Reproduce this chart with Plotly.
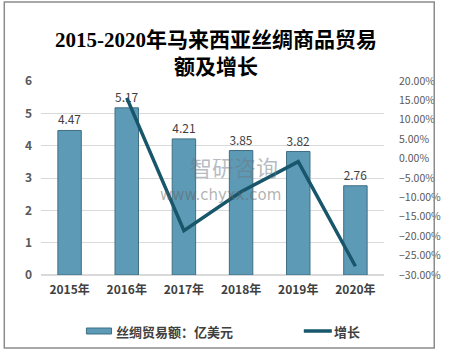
import plotly.graph_objects as go

years = ["2015年", "2016年", "2017年", "2018年", "2019年", "2020年"]
trade = [4.47, 5.17, 4.21, 3.85, 3.82, 2.76]
growth_years = ["2016年", "2017年", "2018年", "2019年", "2020年"]
growth = [0.1566, -0.1857, -0.0855, -0.0078, -0.2775]

W, H = 453, 353
L, R, T, B = 41, 396, 81, 275  # plot area pixels

def px(x):
    return (x - L) / (R - L)

def py(y):
    return (B - y) / (B - T)

FONT = "Noto Sans CJK SC, Noto Sans, sans-serif"
GRAY = "#595959"

fig = go.Figure()
fig.add_trace(go.Bar(
    x=years, y=trade, name="丝绸贸易额：亿美元",
    marker=dict(color="#5d9ab6", line=dict(color="#3f6f84", width=1)),
    width=0.41,
    text=[f"{v:.2f}" for v in trade], textposition="outside",
    textfont=dict(family=FONT, size=12, color="#404040"),
    cliponaxis=False, showlegend=False,
))
fig.add_trace(go.Scatter(
    x=growth_years, y=growth, name="增长", yaxis="y2", mode="lines",
    line=dict(color="#17566b", width=3.5), showlegend=False,
))

fig.update_layout(
    width=W, height=H,
    margin=dict(l=L, r=W - R, t=T, b=H - B),
    paper_bgcolor="white", plot_bgcolor="white",
    xaxis=dict(
        type="category", showline=False, ticks="", showgrid=False,
        tickfont=dict(family=FONT, size=12, color="#404040", weight="bold"),
        ticklabelstandoff=6,
    ),
    yaxis=dict(
        range=[0, 6], dtick=1, showline=False, ticks="",
        gridcolor="#d9d9d9", gridwidth=1, zeroline=True, zerolinecolor="#d9d9d9",
        tickfont=dict(family=FONT, size=12, color=GRAY, weight="bold"),
        ticklabelstandoff=8,
    ),
    yaxis2=dict(
        range=[-0.30, 0.20], dtick=0.05, tickformat=".2%", overlaying="y",
        side="right", showgrid=False, zeroline=False, showline=False, ticks="",
        tickfont=dict(family=FONT, size=10.5, color=GRAY),
        ticklabelstandoff=14,
    ),
    showlegend=False,
)

# Title
fig.add_annotation(
    x=px(222), y=py(53), xref="paper", yref="paper", showarrow=False,
    text="2015-2020年马来西亚丝绸商品贸易<br>额及增长",
    font=dict(family="Liberation Serif, Noto Sans CJK SC, serif", size=21, color="#000000", weight="bold"),
    align="center", xanchor="center", yanchor="middle",
)

# Watermark
fig.add_annotation(
    x=px(241), y=py(166), xref="paper", yref="paper", showarrow=False,
    text="智研咨询", font=dict(family=FONT, size=22, color="rgba(110,120,130,0.5)"),
    xanchor="center", yanchor="middle",
)
fig.add_annotation(
    x=px(227), y=py(195), xref="paper", yref="paper", showarrow=False,
    text="www.chyxx.com", font=dict(family="DejaVu Sans", size=15, color="rgba(100,100,100,0.5)"),
    xanchor="center", yanchor="middle",
)

# Custom legend
fig.add_shape(type="rect", xref="paper", yref="paper",
              x0=px(88), x1=px(114), y0=py(334), y1=py(328),
              fillcolor="#5d9ab6", line=dict(color="#3f6f84", width=1))
fig.add_annotation(x=px(117), y=py(331), xref="paper", yref="paper", showarrow=False,
                   text="丝绸贸易额：亿美元", xanchor="left", yanchor="middle",
                   font=dict(family=FONT, size=13, color="#404040", weight="bold"))
fig.add_shape(type="line", xref="paper", yref="paper",
              x0=px(313), x1=px(342), y0=py(331), y1=py(331),
              line=dict(color="#17566b", width=3.5))
fig.add_annotation(x=px(342), y=py(331), xref="paper", yref="paper", showarrow=False,
                   text="增长", xanchor="left", yanchor="middle",
                   font=dict(family=FONT, size=13, color="#404040", weight="bold"))

# Outer frame
fig.add_shape(type="rect", xref="paper", yref="paper",
              x0=px(3), x1=px(448), y0=py(348), y1=py(2),
              line=dict(color="#8c8c8c", width=1.5), fillcolor="rgba(0,0,0,0)")

fig.write_html("out.html")
